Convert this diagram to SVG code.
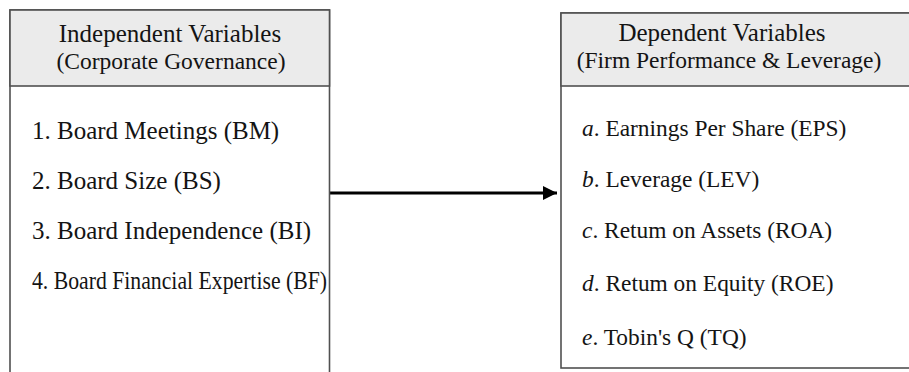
<svg xmlns="http://www.w3.org/2000/svg" width="909" height="372" viewBox="0 0 909 372">
<style>
  .box { fill: #ffffff; stroke: #505050; stroke-width: 1.6; }
  .head { fill: #ebebeb; stroke: #505050; stroke-width: 1.6; }
  text { font-family: "Liberation Serif", "Times New Roman", serif; fill: #141414; }
  .ht { font-size: 23.5px; text-anchor: middle; }
  .ht1 { font-size: 25px; text-anchor: middle; }
  .li { font-size: 25px; }
  .ri { font-size: 23.4px; }
  .conn { stroke: #000; stroke-width: 3; fill: none; }
</style>
<defs>
  <marker id="arrow" markerUnits="userSpaceOnUse" markerWidth="16" markerHeight="16" refX="14" refY="7" orient="auto">
    <path d="M0,0 L14,7 L0,14 Z" fill="#000"/>
  </marker>
</defs>
<rect width="909" height="372" fill="#ffffff"/>

<g id="connectors">
  <line class="conn" x1="330" y1="193" x2="557" y2="193" marker-end="url(#arrow)"/>
</g>

<g id="independent">
  <rect class="box" x="10" y="10" width="319.5" height="380"/>
  <rect class="head" x="10" y="10" width="319.5" height="76"/>
  <text class="ht1" x="170" y="42">Independent Variables</text>
  <text class="ht" x="171" y="69">(Corporate Governance)</text>
  <text class="li" x="32" y="139">1. Board Meetings (BM)</text>
  <text class="li" x="32" y="189">2. Board Size (BS)</text>
  <text class="li" x="32" y="239">3. Board Independence (BI)</text>
  <text class="li" x="32" y="289" textLength="295" lengthAdjust="spacingAndGlyphs">4. Board Financial Expertise (BF)</text>
</g>

<g id="dependent">
  <rect class="box" x="561" y="13" width="360" height="355"/>
  <rect class="head" x="561" y="13" width="360" height="73"/>
  <text class="ht1" x="722" y="41">Dependent Variables</text>
  <text class="ht" x="729" y="68">(Firm Performance &amp; Leverage)</text>
  <text class="ri" x="582" y="136"><tspan font-style="italic">a</tspan>. Earnings Per Share (EPS)</text>
  <text class="ri" x="582" y="187"><tspan font-style="italic">b</tspan>. Leverage (LEV)</text>
  <text class="ri" x="582" y="238"><tspan font-style="italic">c</tspan>. Retum on Assets (ROA)</text>
  <text class="ri" x="582" y="291"><tspan font-style="italic">d</tspan>. Retum on Equity (ROE)</text>
  <text class="ri" x="582" y="345"><tspan font-style="italic">e</tspan>. Tobin's Q (TQ)</text>
</g>
</svg>
